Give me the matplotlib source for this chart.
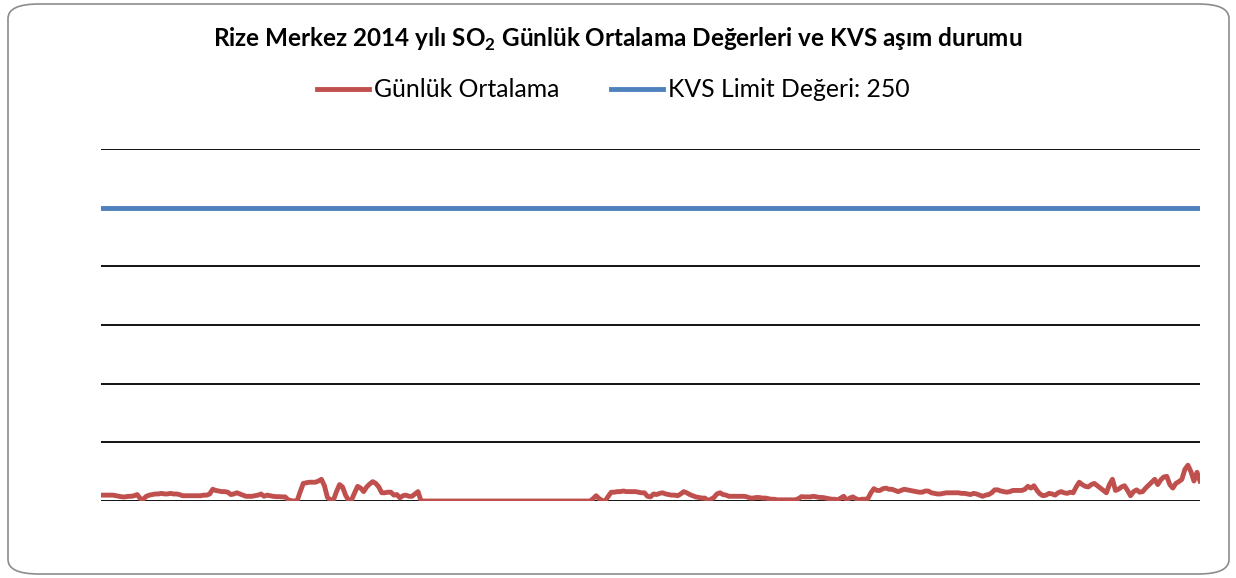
import numpy as np
import matplotlib
matplotlib.use('Agg')
import matplotlib.pyplot as plt
from matplotlib.patches import FancyBboxPatch

plt.rcParams['font.family'] = ['Lato', 'DejaVu Sans']

# Daily SO2 means (ug/m3), one value per day of 2014
gunluk = [
    5, 5, 5, 5, 5, 4.5, 4, 3.5, 3.5, 4,
    4, 4.5, 5.5, 2, 1.5, 4, 5, 5.5, 6, 6,
    6.5, 6, 6, 6.5, 6, 6, 5.5, 4.5, 4.5, 4.5,
    4.5, 4.5, 4.5, 4.5, 5, 5, 6, 10, 9, 8.5,
    8, 8, 7.5, 5.5, 6, 7, 6, 5, 4, 4,
    4, 4.5, 5, 6, 4, 5, 4.5, 4, 3.7, 3.7,
    3.5, 3.5, 1, 0.3, 0, 0.5, 8, 15, 15.5, 16,
    16, 16, 17, 18.5, 13, 3, 1, 1, 8, 14,
    12, 5, 0.5, 1, 7, 12.5, 11, 8, 12, 14.5,
    16.5, 15, 12, 7, 7, 7.5, 7.5, 5, 5.5, 2.7,
    4.5, 5, 4, 4, 6, 8, 0, 0, 0, 0,
    0, 0, 0, 0, 0, 0, 0, 0, 0, 0,
    0, 0, 0, 0, 0, 0, 0, 0, 0, 0,
    0, 0, 0, 0, 0, 0, 0, 0, 0, 0,
    0, 0, 0, 0, 0, 0, 0, 0, 0, 0,
    0, 0, 0, 0, 0, 0, 0, 0, 0, 0,
    0, 0, 0, 2, 4.5, 2, 0.5, 0, 4, 7.5,
    7.5, 8, 8, 8.5, 8, 8, 8, 8, 7.5, 7,
    7, 4, 3.5, 6, 5.5, 6.5, 7, 6, 5.5, 5,
    5, 4.5, 6, 8, 7, 5.5, 4.5, 3.5, 3, 2.5,
    2.5, 0.5, 1.5, 3, 6, 7, 5.5, 5, 4, 4,
    4, 4, 4, 4, 3.5, 2.5, 2.5, 3, 3, 2.5,
    2.5, 2, 1.5, 1.5, 1, 1, 1, 1, 1, 1,
    1, 2, 3.7, 3.5, 3.5, 3.5, 4, 3.5, 3, 3,
    2.5, 2, 1.5, 1.5, 1, 2.5, 4, 0.5, 2.5, 3.5,
    2, 1, 1.5, 1.5, 2, 7, 10.5, 9, 9, 10.5,
    11, 10, 10, 9, 8, 9, 10, 9.5, 9, 8.5,
    8, 7.5, 7.5, 8.5, 8.5, 7, 6.5, 6, 6, 6.5,
    7, 7, 7, 7, 7, 6.5, 6.5, 6, 5.5, 6.5,
    6, 5, 4, 5, 5.5, 7, 9.5, 9.5, 8.5, 8,
    7.5, 8, 9, 9, 9, 9, 10, 12.5, 11, 13,
    9, 6, 4.5, 5, 6.5, 6, 5, 7, 8, 7,
    6.5, 7.5, 7, 12, 16, 14, 12.5, 12, 14, 15,
    13, 11, 9, 7, 14, 18.5, 9, 10, 12, 13,
    9, 4.5, 8, 9.5, 7.5, 8, 11, 13.5, 16, 18.5,
    14, 18, 20.5, 21, 14, 11, 15, 16.5, 18.5, 27,
    30.5, 25, 17, 24.5, 17,
]
kvs_limit = 250
seri_adlari = ['Günlük Ortalama', 'KVS Limit Değeri: 250']

gun = np.arange(len(gunluk))

fig = plt.figure(figsize=(12.36, 5.78), dpi=100)

# rounded outer border like the Excel chart area
kutu = FancyBboxPatch((8 / 1236, 4 / 578), 1221 / 1236, 570 / 578,
                      boxstyle='round,pad=0,rounding_size=0.025',
                      transform=fig.transFigure, facecolor='none',
                      edgecolor='#8c8c8c', linewidth=1.2, zorder=-1)
fig.patches.append(kutu)

ax = fig.add_axes([101 / 1236, 1 - 501 / 578, 1099 / 1236, 352 / 578])
ax.set_facecolor('none')
for y in range(0, 301, 50):
    ax.axhline(y, color='black', lw=1.3, zorder=1)

ax.plot(gun, gunluk, color='#C0504D', lw=3.5, label=seri_adlari[0], zorder=3,
        solid_joinstyle='round')
ax.plot(gun, [kvs_limit] * len(gun), color='#4F81BD', lw=3.5,
        label=seri_adlari[1], zorder=3)

ax.set_xlim(0, len(gunluk) - 1)
ax.set_ylim(0, 300)
ax.set_xticks([])
ax.set_yticks([])
for s in ax.spines.values():
    s.set_visible(False)

fig.text(0.5, 1 - 39 / 578,
         r'Rize Merkez 2014 yılı SO$_\mathregular{2}$ Günlük Ortalama Değerleri ve KVS aşım durumu',
         ha='center', va='center', fontsize=17.5, fontweight='bold')

fig.legend(loc='center', bbox_to_anchor=(613 / 1236, 1 - 90 / 578), ncol=2,
           frameon=False, fontsize=17.8, handlelength=2.1, handletextpad=0.2,
           columnspacing=2.1)

fig.savefig('out.png', dpi=100)
